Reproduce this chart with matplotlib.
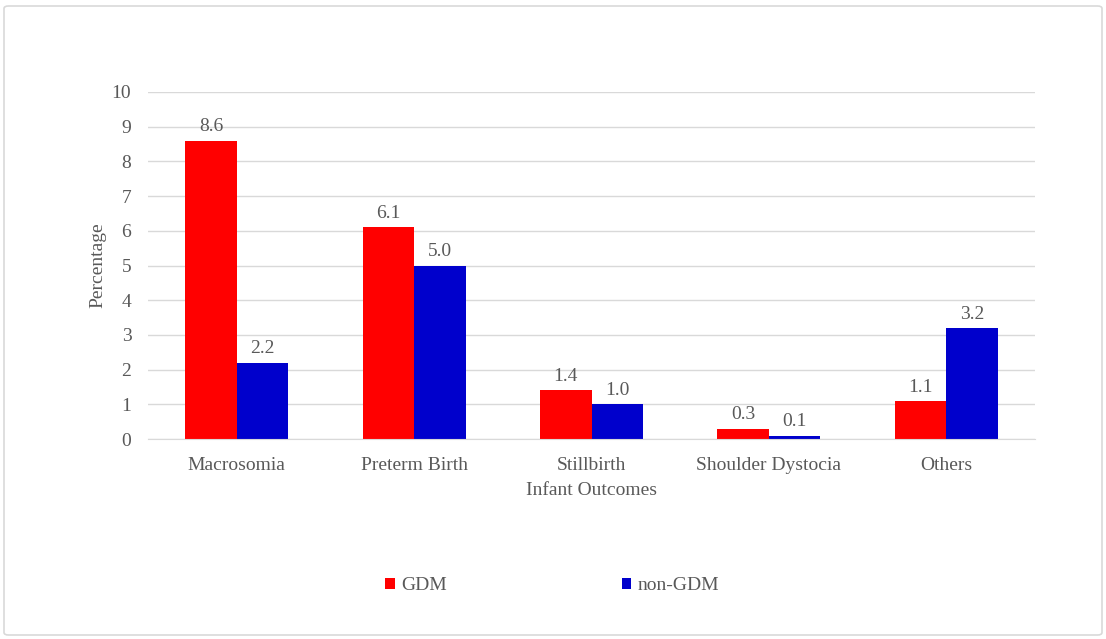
import matplotlib
matplotlib.use("Agg")
import matplotlib.pyplot as plt
import numpy as np
from matplotlib.patches import FancyBboxPatch

categories = ["Macrosomia", "Preterm Birth", "Stillbirth", "Shoulder Dystocia", "Others"]
gdm = [8.6, 6.1, 1.4, 0.3, 1.1]
non_gdm = [2.2, 5.0, 1.0, 0.1, 3.2]
yticks = list(range(0, 11))

plt.rcParams['font.family'] = ['Liberation Serif', 'DejaVu Serif']
txt = '#595959'
fs = 14

fig = plt.figure(figsize=(11.06, 6.39), dpi=100)
border = FancyBboxPatch((4/1106, 4/639), 1098/1106, 629/639, boxstyle="round,pad=0,rounding_size=0.004",
                        transform=fig.transFigure, fill=False, edgecolor='#d9d9d9', linewidth=1.2)
fig.patches.append(border)

ax = fig.add_axes([148/1106, 200/639, 887/1106, 347/639])
x = np.arange(len(categories))
w = 0.29
b1 = ax.bar(x - w/2, gdm, w, color='#ff0000', label='GDM')
b2 = ax.bar(x + w/2, non_gdm, w, color='#0000cc', label='non-GDM')
for bars, vals in ((b1, gdm), (b2, non_gdm)):
    for r, v in zip(bars, vals):
        ax.text(r.get_x() + r.get_width()/2, v + 0.15, f"{v:.1f}", ha='center', va='bottom',
                fontsize=fs, color=txt)

ax.set_xlim(-0.5, len(categories) - 0.5)
ax.set_ylim(0, 10)
ax.set_yticks(yticks)
ax.set_xticks(x)
ax.set_xticklabels(categories)
ax.tick_params(axis='both', length=0, labelsize=fs, labelcolor=txt)
ax.tick_params(axis='x', pad=13)
ax.tick_params(axis='y', pad=12)
ax.grid(axis='y', color='#d9d9d9', linewidth=1)
ax.set_axisbelow(True)
for s in ['top', 'right', 'left']:
    ax.spines[s].set_visible(False)
ax.spines['bottom'].set_color('#d9d9d9')
ax.set_ylabel('Percentage', fontsize=fs, color=txt, labelpad=4)
ax.set_xlabel('Infant Outcomes', fontsize=fs, color=txt, labelpad=6)

fig.legend(handles=[b1, b2], labels=['GDM', 'non-GDM'], loc='center', bbox_to_anchor=(552/1106, 1 - 586/639),
           ncol=2, frameon=False, fontsize=fs, labelcolor=txt, handlelength=0.5, handleheight=0.5,
           handletextpad=0.3, columnspacing=9)

fig.savefig('out.png', dpi=100)
